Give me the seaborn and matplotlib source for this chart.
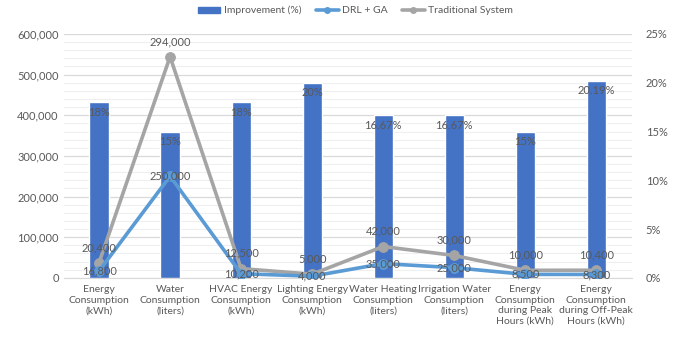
import numpy as np
import pandas as pd
import matplotlib
matplotlib.use("Agg")
import matplotlib.pyplot as plt
import seaborn as sns
from matplotlib.ticker import FuncFormatter, MultipleLocator
from matplotlib.lines import Line2D
from matplotlib.patches import Patch

categories = [
    "Energy\nConsumption\n(kWh)",
    "Water\nConsumption\n(liters)",
    "HVAC Energy\nConsumption\n(kWh)",
    "Lighting Energy\nConsumption\n(kWh)",
    "Water Heating\nConsumption\n(liters)",
    "Irrigation Water\nConsumption\n(liters)",
    "Energy\nConsumption\nduring Peak\nHours (kWh)",
    "Energy\nConsumption\nduring Off-Peak\nHours (kWh)",
]
improvement = [18, 15, 18, 20, 16.67, 16.67, 15, 20.19]
improvement_labels = ["18%", "15%", "18%", "20%", "16.67%", "16.67%", "15%", "20.19%"]
drl_ga = [16800, 250000, 10200, 4000, 35000, 25000, 8500, 8300]
traditional = [20400, 294000, 12500, 5000, 42000, 30000, 10000, 10400]

bar_color = "#4472C4"
drl_color = "#5B9BD5"
trad_color = "#A5A5A5"
text_color = "#595959"

sns.set_style("white")
plt.rcParams["font.family"] = ["Lato", "DejaVu Sans"]

# the original is an Excel "stacked line" chart: Traditional sits on top of DRL + GA
stacked_trad = np.add(drl_ga, traditional)
df = pd.DataFrame({"cat": categories, "imp": improvement,
                   "drl": drl_ga, "trad": stacked_trad})
x = np.arange(len(categories))

fig = plt.figure(figsize=(6.83, 3.43), dpi=100)
ax = fig.add_axes([0.093, 0.19, 0.832, 0.711])
ax2 = ax.twinx()
ax3 = ax.twinx()

# left axis: counts + gridlines
ax.set_ylim(0, 600000)
ax.yaxis.set_major_locator(MultipleLocator(100000))
ax.yaxis.set_minor_locator(MultipleLocator(20000))
ax.yaxis.set_major_formatter(FuncFormatter(lambda v, p: f"{int(v):,}"))
ax.grid(axis="y", which="major", color="#D9D9D9", lw=0.9)
ax.grid(axis="y", which="minor", color="#EFEFEF", lw=0.8)
ax.set_axisbelow(True)
ax.set_xlim(-0.5, len(categories) - 0.5)
ax.set_xticks(x)
ax.set_xticklabels(categories, fontsize=7.5, color=text_color, linespacing=1.25)
ax.set_xticks(np.arange(len(categories) + 1) - 0.5, minor=True)
ax.tick_params(axis="x", which="major", length=0, pad=5)
ax.tick_params(axis="x", which="minor", length=4, color="#D9D9D9")
ax.tick_params(axis="y", which="both", length=0, labelsize=8, labelcolor=text_color)

# right axis: improvement bars
sns.barplot(x=x, y="imp", data=df, ax=ax2, color=bar_color, width=0.27,
            saturation=1, native_scale=True)
ax2.set_ylim(0, 25)
ax2.yaxis.set_major_locator(MultipleLocator(5))
ax2.yaxis.set_major_formatter(FuncFormatter(lambda v, p: f"{int(v)}%"))
ax2.tick_params(axis="y", length=0, labelsize=8, labelcolor=text_color, pad=10)
ax2.set_ylabel("")
for xi, v, lab in zip(x, improvement, improvement_labels):
    ax2.text(xi, v - 0.45, lab, ha="center", va="top", fontsize=8, color=text_color)

# lines on top
sns.lineplot(x=x, y=df["trad"], ax=ax3, color=trad_color, lw=2.6, marker="o",
             markersize=7, markeredgecolor=trad_color)
sns.lineplot(x=x, y=df["drl"], ax=ax3, color=drl_color, lw=2.6, marker="o",
             markersize=7, markeredgecolor=drl_color)
ax3.set_ylim(ax.get_ylim())
ax3.set_xlim(ax.get_xlim())
ax3.set_yticks([])
ax3.set_ylabel("")
for xi, v, lab in zip(x, stacked_trad, traditional):
    ax3.annotate(f"{lab:,}", (xi, v), xytext=(0, 7), textcoords="offset points",
                 ha="center", va="bottom", fontsize=8, color=text_color)
for xi, v in zip(x, drl_ga):
    ax3.annotate(f"{v:,}", (xi, v), xytext=(0, 0), textcoords="offset points",
                 ha="center", va="center", fontsize=8, color=text_color)

for a in (ax, ax2, ax3):
    for s in a.spines.values():
        s.set_visible(False)
ax.spines["bottom"].set_visible(True)
ax.spines["bottom"].set_color("#D9D9D9")

handles = [Patch(color=bar_color),
           Line2D([], [], color=drl_color, lw=2.6, marker="o", markersize=4),
           Line2D([], [], color=trad_color, lw=2.6, marker="o", markersize=4)]
fig.legend(handles, ["Improvement (%)", "DRL + GA", "Traditional System"],
           loc="upper center", bbox_to_anchor=(0.52, 1.01), ncol=3, frameon=False,
           fontsize=7.5, handlelength=2.2, handleheight=0.5, columnspacing=1.4,
           handletextpad=0.3, labelcolor=text_color)

fig.savefig("out.png", dpi=100)
